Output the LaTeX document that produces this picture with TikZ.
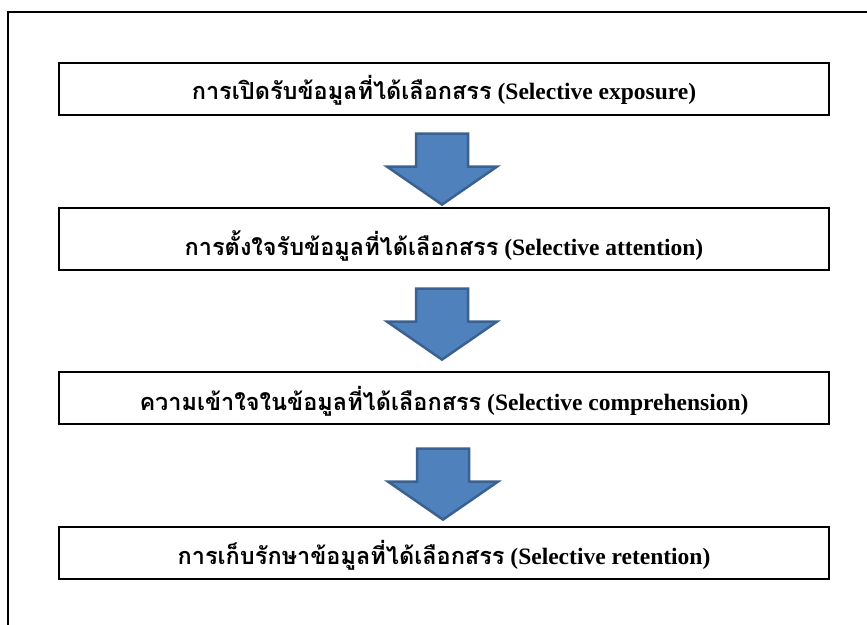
\documentclass[tikz,border=0pt]{standalone}
\usepackage{fontspec}
\setmainfont{Liberation Serif}
\newfontfamily\thaifont[Script=Thai]{Loma}
\usetikzlibrary{calc}
\definecolor{arrowfill}{HTML}{4F81BD}
\definecolor{arrowline}{HTML}{3B6190}
% thai part, english part, drop of the line below the box centre
\newcommand{\stagetext}[3]{\raisebox{-#3}[\height][\depth]{{\thaifont #1} (#2)}}

\begin{document}
\begin{tikzpicture}[x=1pt,y=-1pt]
\tikzstyle{stage}=[draw,line width=1.2pt,minimum width=770pt,minimum height=52pt,inner sep=0pt,font=\fontsize{23.5}{28}\selectfont\bfseries]
\tikzstyle{blockarrow}=[fill=arrowfill,draw=arrowline,line width=2.5pt,line join=miter]
\tikzset{pics/downarrow/.style={code={
  \path[blockarrow] (-26,0) -- (26,0) -- (26,33) -- (55,33) -- (0,71) -- (-55,33) -- (-26,33) -- cycle;}}}
\useasboundingbox (0,0) rectangle (867,624);
\clip (0,0) rectangle (867,624);
% outer frame, runs off the page
\draw[line width=2pt] (8,12) rectangle (880,640);
\node[stage] (exposure) at (444,89) {\stagetext{การเปิดรับข้อมูลที่ได้เลือกสรร}{Selective exposure}{1pt}};
\node[stage,minimum height=62pt] (attention) at (444,239) {\stagetext{การตั้งใจรับข้อมูลที่ได้เลือกสรร}{Selective attention}{7pt}};
\node[stage] (comprehension) at (444,398) {\stagetext{ความเข้าใจในข้อมูลที่ได้เลือกสรร}{Selective comprehension}{3pt}};
\node[stage] (retention) at (444,553) {\stagetext{การเก็บรักษาข้อมูลที่ได้เลือกสรร}{Selective retention}{2pt}};
\pic at ($(exposure.south)+(-2,18)$) {downarrow};
\pic at ($(attention.south)+(-2,18)$) {downarrow};
\pic at ($(comprehension.south)+(-1,24)$) {downarrow};
\end{tikzpicture}
\end{document}
